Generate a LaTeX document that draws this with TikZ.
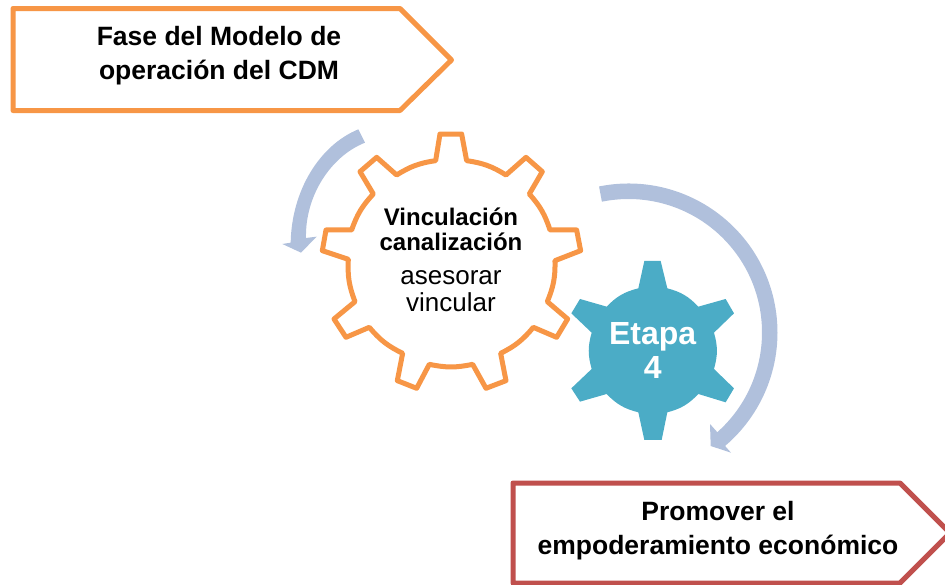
\documentclass[tikz,border=0pt]{standalone}
\usepackage{fontspec}
\setmainfont{Liberation Sans}
\definecolor{orangeline}{HTML}{F79646}
\definecolor{redline}{HTML}{C0504D}
\definecolor{tealfill}{HTML}{4BACC6}
\definecolor{bluearrow}{HTML}{B0C0DC}
\tikzset{
  boxtext/.style={align=center,font=\bfseries\fontsize{26.5}{34}\selectfont,text=black,inner sep=0pt},
  gearbold/.style={align=center,font=\bfseries\fontsize{24}{24.7}\selectfont,text=black,inner sep=0pt},
  gearplain/.style={align=center,font=\fontsize{26}{27.3}\selectfont,text=black,inner sep=0pt},
  etapatext/.style={align=center,font=\bfseries\fontsize{32}{34}\selectfont,text=white,inner sep=0pt},
  gearline/.style={draw=orangeline,line width=5pt,line join=round,fill=white},
  pointbox/.style={line width=5pt,line join=round,fill=white},
  arrowshape/.style={fill=bluearrow,draw=none},
  va/.style={bend left=12},
  vb/.style={bend left=16}
}
\begin{document}
\begin{tikzpicture}[x=1pt,y=-1pt]
\useasboundingbox (0,0) rectangle (945,584);
\clip (0,0) rectangle (945,584);
% top box
\draw[pointbox,draw=orangeline] (13,8.5) -- (400,8.5) -- (451.5,60) -- (400,110.5) -- (13,110.5) -- cycle;
\node[boxtext] (fase) at (219,55.5) {Fase del Modelo de\\operación del CDM};
% bottom box
\draw[pointbox,draw=redline] (513,483) -- (900,483) -- (950,533) -- (900,583) -- (513,583) -- cycle;
\node[boxtext] (promover) at (718,530.5) {Promover el\\empoderamiento económico};
% small arrow
\begin{scope}[shift={(270,120)},x=0.3333pt,y=-0.3333pt]
\fill[arrowshape] (265,28) .. controls (150,75) and (65,210) .. (62,368) -- (37,372) -- (93,398) -- (140,350) -- (108,354) .. controls (105,230) and (180,110) .. (285,68) -- cycle;
\end{scope}
% large arrow
\begin{scope}[shift={(628.5,332.5)}]
\fill[arrowshape] (-101.4:149) arc[start angle=-101.4,end angle=49.6,radius=149]
  -- (102.5,120.2) -- (82.2,113.5) -- (81.5,91.5)
  -- (48.3:133.5) arc[start angle=48.3,end angle=-101.5,radius=133.5] -- cycle;
\end{scope}
% orange gear
\begin{scope}[shift={(270,120)},x=0.3333pt,y=-0.3333pt]
\draw[gearline] (510,42) -- (575,42) -- (590,122) to[va] (708,165) -- (768,112) -- (817,155) -- (778,222)
  to[va] (840,330) -- (920,330) -- (932,392) -- (855,422)
  to[va] (832,545) -- (893,597) -- (860,652) -- (790,622)
  to[va] (692,700) -- (708,782) -- (648,805) -- (608,733)
  to[va] (478,733) -- (440,805) -- (382,782) -- (398,700)
  to[va] (298,622) -- (228,652) -- (192,597) -- (255,545)
  to[va] (235,418) -- (157,392) -- (168,330) -- (245,330)
  to[va] (310,222) -- (270,155) -- (320,112) -- (380,165)
  to[va] (497,122) -- cycle;
\end{scope}
\node[gearbold] (vinc) at (451,229) {Vinculación\\canalización};
\node[gearplain] (ases) at (451,291) {asesorar\\vincular};
% teal gear
\begin{scope}[shift={(560,170)},x=0.3333pt,y=-0.3333pt]
\fill[tealfill] (253,273) -- (302,273) -- (322,355) to[vb] (415,410) -- (497,387) -- (522,430) -- (462,488)
  to[vb] (462,597) -- (522,655) -- (497,697) -- (415,672)
  to[vb] (322,727) -- (305,810) -- (253,810) -- (235,727)
  to[vb] (140,672) -- (60,695) -- (34,655) -- (95,597)
  to[vb] (95,488) -- (34,430) -- (60,387) -- (140,410)
  to[vb] (235,355) -- cycle;
\end{scope}
\node[etapatext] (etapa) at (652.7,350.5) {Etapa\\4};
\end{tikzpicture}
\end{document}
